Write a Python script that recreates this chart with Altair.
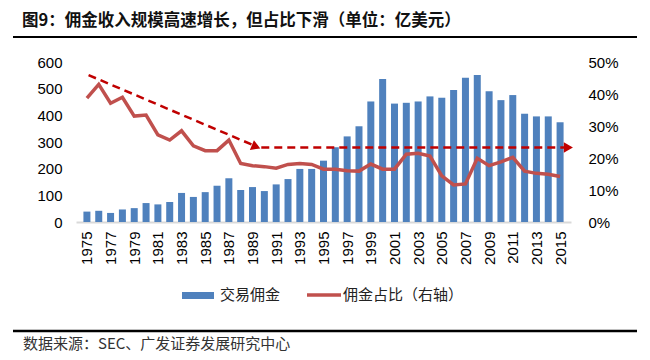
import altair as alt
import pandas as pd

years = list(range(1975, 2016))
commission = [39, 42, 34, 47, 52, 71, 66, 75, 109, 94, 112, 136, 164, 120, 131, 116, 141, 161, 199, 199,
              230, 280, 321, 359, 452, 536, 444, 447, 452, 471, 466, 495, 541, 551, 490, 457, 476, 406,
              396, 396, 374]
share = [38.7, 43.0, 37.1, 39.0, 33.1, 33.4, 27.2, 25.6, 28.5, 23.8, 22.3, 22.3, 25.6, 18.3, 17.6, 17.3,
         16.8, 18.0, 18.3, 18.0, 16.5, 16.5, 16.0, 15.9, 18.1, 16.5, 16.5, 21.2, 21.5, 20.6, 14.4, 11.6,
         11.9, 19.9, 17.6, 18.8, 20.2, 15.9, 15.2, 14.9, 14.2]

# trend annotation (dashed arrows), in year / share units
trend_seg = ["a", "a", "b", "b"]
trend_x = [1975.14, 1989.45, 1989.74, 2015.7]
trend_y = [45.9, 23.4, 23.3, 23.3]
arrow_x = [1989.3, 2015.7]
arrow_y = [23.5, 23.3]
arrow_angle = [22.7, 0]

x_ticks = list(range(1975, 2016, 2))
left_ticks = [0, 100, 200, 300, 400, 500, 600]
right_ticks = [0, 0.1, 0.2, 0.3, 0.4, 0.5]

title_text = "图9：佣金收入规模高速增长，但占比下滑（单位：亿美元）"
legend_bar = "交易佣金"
legend_line = "佣金占比（右轴）"
source_text = "数据来源：SEC、广发证券发展研究中心"

df = pd.DataFrame({"year": years, "commission": commission, "share": [s / 100 for s in share]})
trend = pd.DataFrame({"seg": trend_seg, "year": trend_x, "share": [v / 100 for v in trend_y]})
arrows = pd.DataFrame({"year": arrow_x, "share": [v / 100 for v in arrow_y], "ang": arrow_angle})

xscale = alt.Scale(domain=[1974.5, 2015.5], nice=False, zero=False)
x_axis = alt.Axis(values=x_ticks, format="d", labelAngle=-90, ticks=False, grid=False,
                  domainColor="#D9D9D9", domainWidth=2, labelPadding=9, title=None,
                  labelFlush=False, labelOverlap=False, labelFontSize=15,
                  labelFont="Liberation Sans", labelColor="#000")
x_enc = alt.X("year:Q", scale=xscale, axis=x_axis)

bars = alt.Chart(df).mark_bar(size=7, color="#4F81BD").encode(
    x=x_enc,
    y=alt.Y("commission:Q", scale=alt.Scale(domain=[0, 600], nice=False),
            axis=alt.Axis(values=left_ticks, ticks=False, domain=False, grid=False, title=None,
                          labelPadding=14, labelFontSize=15, labelFont="Liberation Sans",
                          labelColor="#000", labelOverlap=False)),
)

pscale = alt.Scale(domain=[0, 0.5], nice=False)
p_axis = alt.Axis(values=right_ticks, format=".0%", ticks=False, domain=False, grid=False,
                  title=None, labelPadding=17, labelFontSize=15, labelFont="Liberation Sans",
                  labelColor="#000", orient="right", labelOverlap=False)
y_p = alt.Y("share:Q", scale=pscale, axis=p_axis)

line = alt.Chart(df).mark_line(color="#C0504D", strokeWidth=3.5).encode(x=x_enc, y=y_p)
trend_line = alt.Chart(trend).mark_line(color="#C00000", strokeWidth=2.5, strokeDash=[8, 5]).encode(
    x=x_enc, y=y_p, detail="seg:N",
)
arrow_pts = alt.Chart(arrows).mark_point(shape="triangle-right", filled=True, size=110,
                                         color="#C00000", opacity=1).encode(
    x=x_enc, y=y_p, angle=alt.Angle("ang:Q", scale=None),
)
right = alt.layer(line, trend_line, arrow_pts)


def txt(s, x, y, size=15, weight="normal", color="#222"):
    return alt.Chart(pd.DataFrame({"t": [s]})).mark_text(
        align="left", baseline="middle", fontSize=size, fontWeight=weight,
        font="Noto Sans CJK SC", color=color).encode(
        text="t:N", x=alt.value(x), y=alt.value(y))


def rule(x1, x2, y, color="#000", w=2):
    return alt.Chart(pd.DataFrame({"a": [0]})).mark_rule(color=color, strokeWidth=w).encode(
        x=alt.value(x1), x2=alt.value(x2), y=alt.value(y))


legend_rect = alt.Chart(pd.DataFrame({"a": [0]})).mark_rect(color="#4F81BD").encode(
    x=alt.value(106), x2=alt.value(138), y=alt.value(230), y2=alt.value(237))

decor = alt.layer(
    txt(title_text, -54, -41, size=16.5, weight="bold", color="#111"),
    rule(-63, 561, -25, w=2),
    legend_rect,
    txt(legend_bar, 144, 233),
    rule(231, 265, 233, color="#C0504D", w=3.5),
    txt(legend_line, 267, 233),
    rule(-63, 561, 269, w=2.5),
    txt(source_text, -53, 282, size=15, color="#333"),
)

chart = alt.layer(bars, right, decor).resolve_scale(y="independent").properties(
    width=495, height=160,
    autosize=alt.AutoSizeParams(type="none"),
    padding={"left": 68, "top": 54, "right": 71, "bottom": 130},
    background="white",
).configure_view(stroke=None).configure_axis(labelOverlap=False)

chart.save("out.html", embed_options={"renderer": "svg", "actions": False})
